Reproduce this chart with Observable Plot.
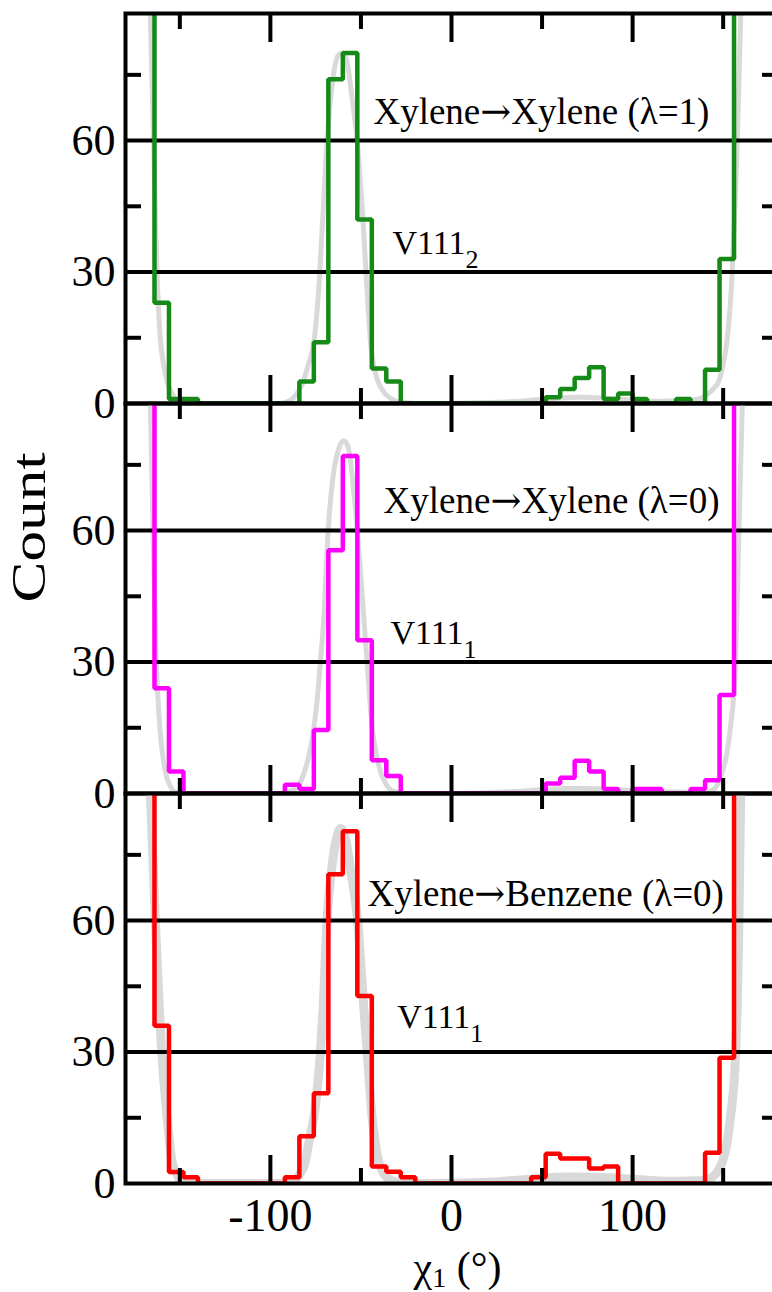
<!DOCTYPE html>
<html>
<head>
<meta charset="utf-8">
<script src="https://cdn.jsdelivr.net/npm/d3@7"></script>
<script src="https://cdn.jsdelivr.net/npm/@observablehq/plot@0.6"></script>
<style>
  html, body { margin: 0; padding: 0; background: #ffffff; overflow: hidden; }
  #chart { position: relative; width: 772px; height: 1292px; overflow: hidden; background: #ffffff; }
  #chart svg { position: absolute; left: 0; max-width: none !important; background: transparent !important; overflow: visible !important; }
  #chart svg, #chart svg text { font-family: "Liberation Serif", "Times New Roman", serif !important; }
</style>
</head>
<body>
<div id="chart"></div>
<script>
// ---------- data ----------
const xDomain = [-180, 180];
const yDomain = [0, 89];
const yLabelTicks = [0, 30, 60];
const gridY = [30, 60];
const yMinorTicks = [15, 45, 75];
const xMajorTicks = [-100, 0, 100];
const xMinorTicks = [-150, -50, 50, 150];

// left edges of the 8° histogram bins
const binStarts = [-180,-172,-164,-156,-148,-140,-132,-124,-116,-108,-100,-92,-84,-76,-68,-60,-52,-44,-36,-28,-20,-12,-4,4,12,20,28,36,44,52,60,68,76,84,92,100,108,116,124,132,140,148,156,164,172];

// Xylene→Xylene (λ=1), V111_2
const countsXylXylL1 = [150,150,23,1,1,0,0,0,0,0,0,0,5,14,74,80,42,8,5,0,0,0,0,0,0,0,0,0,0,1.4,3.3,5.8,8.3,1,2.3,1,0,0,1,0,7.7,33,150,150,150];
// Xylene→Xylene (λ=0), V111_1
const countsXylXylL0 = [150,150,24,5,0,0,0,0,0,0,0,2,1,14.5,55.5,77,35,7.6,4,0,0,0,0,0,0,0,0,0,0,2.3,3.6,7.5,5,1,0,1,1,0,0,1,3,22.5,150,150,150];
// Xylene→Benzene (λ=0), V111_1
const countsXylBenL0 = [150,150,36,2.6,1.4,0,0,0,0,0,0,1.4,10.8,20.6,70.6,80.4,42.8,3.9,2.7,1.4,0,0,0,0,0,0,0,0,1.4,6.8,5.7,5.7,3.4,3.9,0,0,0,0,0,0,7,28.7,150,150,150];

// grey reference curves
const grayTopX = [-174,-168,-166.3,-164.5,-162.6,-160.8,-159,-157,-154,-151,-146,-120,-95,-90,-85,-81.8,-79,-76,-73.5,-71.4,-68.7,-65.5,-62.5,-60.4,-58,-55,-52.1,-48.6,-46.5,-44.7,-42,-38,-33,-28,-15,20,40,55,70,85,100,115,128,136,141,145,147.5,150,152.3,155,157,158.5,159.7,161,166];
const grayTopY = [250,110,89,60,30,15,9,5,2,0.5,0,0,0,0.5,2.5,5,9,14,25,40,60,74,79.5,80,78.5,70,60,40,25,14,7,3,1,0.3,0,0.2,0.6,1.1,1.4,1.2,0.8,0.5,0.6,1,2,3.5,5,9,15,30,50,70,89,110,250];
const grayMidX = [-174,-168,-166.3,-164.8,-163,-161,-158,-155,-152.5,-146,-120,-95,-88,-85,-81.2,-78.5,-76,-74,-72.4,-70.5,-68.1,-65.5,-62,-59.5,-57,-54.5,-52,-48.4,-46.6,-43.8,-41.5,-39.2,-36,-32,-25,-10,20,40,55,70,85,100,115,130,140,145,147.5,149.6,152,154,156.9,158.7,160.6,162,167];
const grayMidY = [250,110,89,60,30,15,5,1.5,0.3,0,0,0,0.8,1.5,5,9,15,22,30,40,60,72,79,80.5,79,71,60,40,30,15,9,5,2,0.5,0,0,0.2,0.6,1,1.2,1,0.7,0.4,0.3,0.3,1,2.5,5,9,15,30,60,89,110,250];
const grayBotX = [-174,-169,-166.3,-163.5,-160,-157,-154.3,-151.5,-149,-143,-120,-95,-87,-84,-80.7,-78.5,-76,-74,-72.4,-70.9,-68.7,-65.5,-63,-61.3,-59,-55.5,-51.8,-48.4,-46.6,-43.8,-42,-40.2,-37,-32,-25,-10,20,38,50,65,80,95,110,125,137,143,146.5,149.6,152,154,156.9,158.7,159.7,161,166];
const grayBotY = [250,120,89,60,30,15,5,2,0.5,0,0,0,0.5,2,5,10,15,22,30,40,60,74,79.5,81,79.5,71,60,40,30,15,9,5,2,0.5,0,0,0.3,0.8,1.2,1.5,1.4,1.1,0.7,0.5,0.6,1.2,2.5,5,9,15,30,60,89,110,250];

const titles = ["Xylene→Xylene (λ=1)", "Xylene→Xylene (λ=0)", "Xylene→Benzene (λ=0)"];
const sites = ["V111_2", "V111_1", "V111_1"];
const colors = ["#168a16", "#ff00ff", "#ff0000"];
const yLabel = "Count";
const xLabel = "χ_1 (°)";

// ---------- layout ----------
const panels = [
  {counts: countsXylXylL1, grayX: grayTopX, grayY: grayTopY, grayWidth: 5, title: titles[0], site: sites[0], color: colors[0],
   top: 0, marginTop: 13, marginBottom: 0, titleAt: [-43.1, 63.8], siteAt: [-32.6, 34.2]},
  {counts: countsXylXylL0, grayX: grayMidX, grayY: grayMidY, grayWidth: 5, title: titles[1], site: sites[1], color: colors[1],
   top: 403, marginTop: 0, marginBottom: 0, titleAt: [-37.5, 63.9], siteAt: [-33.7, 34.2], yLabel: true},
  {counts: countsXylBenL0, grayX: grayBotX, grayY: grayBotY, grayWidth: 9, title: titles[2], site: sites[2], color: colors[2],
   top: 793, marginTop: 0, marginBottom: 109, titleAt: [-46.4, 63.4], siteAt: [-30, 35.6], xAxis: true}
];

const container = document.getElementById("chart");
const tickOpts = {stroke: "black", strokeWidth: 4, tickFormat: () => "", label: null};
const ns = "http://www.w3.org/2000/svg";

function span(text, attrs = {}, style = {}) {
  const s = document.createElementNS(ns, "tspan");
  s.textContent = text;
  for (const k in attrs) s.setAttribute(k, attrs[k]);
  Object.assign(s.style, style);
  return s;
}

panels.forEach(p => {
  const hist = binStarts.map((x, i) => ({x, y: p.counts[i]}))
    .concat([{x: xDomain[1], y: p.counts[p.counts.length - 1]}]);
  const gray = p.grayX.map((x, i) => ({x, y: p.grayY[i]}));
  const marks = [
    Plot.line(gray, {x: "x", y: "y", stroke: "#d9d9d9", strokeWidth: p.grayWidth, curve: "monotone-x", clip: true}),
    Plot.ruleY(gridY, {stroke: "black", strokeWidth: 4}),
    Plot.line(hist, {x: "x", y: "y", stroke: p.color, strokeWidth: 4.5, curve: "step-after", clip: true, strokeLinejoin: "miter"}),
    Plot.frame({stroke: "black", strokeWidth: 4}),
    Plot.axisY({anchor: "left", ticks: yLabelTicks, tickSize: 0, tickPadding: 10, fontSize: 44, tickFormat: d => String(d), label: null}),
    Plot.axisY({anchor: "left", ticks: yMinorTicks, tickSize: 16, dx: 16, ...tickOpts}),
    Plot.axisY({anchor: "right", ticks: yMinorTicks, tickSize: 16, dx: -16, ...tickOpts}),
    Plot.axisX({anchor: "bottom", ticks: xMajorTicks, tickSize: 28, dy: -28, ...tickOpts}),
    Plot.axisX({anchor: "bottom", ticks: xMinorTicks, tickSize: 15, dy: -15, ...tickOpts}),
    Plot.axisX({anchor: "top", ticks: xMajorTicks, tickSize: 28, dy: 28, ...tickOpts}),
    Plot.axisX({anchor: "top", ticks: xMinorTicks, tickSize: 15, dy: 15, ...tickOpts}),
    Plot.text([{x: p.titleAt[0], y: p.titleAt[1], t: p.title}], {x: "x", y: "y", text: "t", textAnchor: "start", lineAnchor: "bottom", fontSize: 37, fill: "black"}),
    Plot.text([{x: p.siteAt[0], y: p.siteAt[1], t: p.site}], {x: "x", y: "y", text: "t", textAnchor: "start", lineAnchor: "bottom", fontSize: 34, fill: "black"})
  ];
  if (p.yLabel) {
    marks.push(Plot.text([yLabel], {frameAnchor: "left", dx: -96, dy: 4, rotate: -90, fontSize: 48, fill: "black"}));
  }
  if (p.xAxis) {
    marks.push(Plot.axisX({anchor: "bottom", ticks: xMajorTicks, tickSize: 0, tickPadding: 15, fontSize: 46, tickFormat: d => String(d), label: null}));
    marks.push(Plot.text([xLabel], {frameAnchor: "bottom", dx: 6, dy: 97, lineAnchor: "bottom", fontSize: 42, fill: "black"}));
  }
  const svg = Plot.plot({
    width: 800,
    height: p.marginTop + 390 + p.marginBottom,
    marginLeft: 125,
    marginRight: 23,
    marginTop: p.marginTop,
    marginBottom: p.marginBottom,
    x: {domain: xDomain, axis: null},
    y: {domain: yDomain, axis: null},
    marks
  });
  svg.style.top = p.top + "px";
  container.appendChild(svg);

  // subscripts, arrows and stretched y label
  svg.querySelectorAll("text").forEach(t => {
    const s = t.textContent;
    if (s === yLabel) {
      t.setAttribute("textLength", "150");
      t.setAttribute("lengthAdjust", "spacingAndGlyphs");
      return;
    }
    const m = s.match(/^(.*?)_(\d)(.*)$/);
    if (m) {
      const big = s === xLabel;
      const subSize = big ? 28 : 26;
      const shift = big ? 6 : 14;
      while (t.firstChild) t.removeChild(t.firstChild);
      t.appendChild(span(m[1]));
      t.appendChild(span(m[2], {"font-size": subSize, dy: shift}));
      if (m[3]) t.appendChild(span(m[3], {dy: -shift}));
      return;
    }
    if (s.includes("→")) {
      const parts = s.split("→");
      while (t.firstChild) t.removeChild(t.firstChild);
      t.appendChild(span(parts[0]));
      t.appendChild(span("→", {}, {fontFamily: "'DejaVu Serif', serif"}));
      t.appendChild(span(parts[1]));
    }
  });
});
</script>
</body>
</html>
